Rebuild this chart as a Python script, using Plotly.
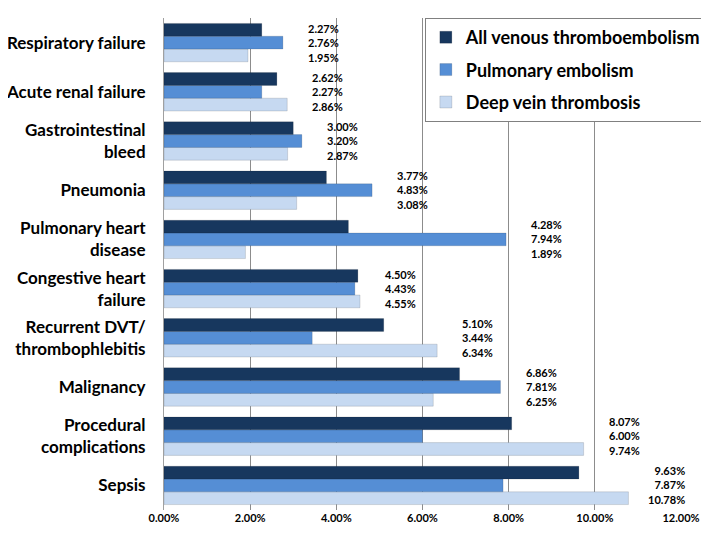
import plotly.graph_objects as go

categories = ["Respiratory failure", "Acute renal failure", "Gastrointestinal<br>bleed",
              "Pneumonia", "Pulmonary heart<br>disease", "Congestive heart<br>failure",
              "Recurrent DVT/<br>thrombophlebitis", "Malignancy", "Procedural<br>complications", "Sepsis"]
all_vte = [2.27, 2.62, 3.00, 3.77, 4.28, 4.50, 5.10, 6.86, 8.07, 9.63]
pe = [2.76, 2.27, 3.20, 4.83, 7.94, 4.43, 3.44, 7.81, 6.00, 7.87]
dvt = [1.95, 2.86, 2.87, 3.08, 1.89, 4.55, 6.34, 6.25, 9.74, 10.78]
series_names = ["All venous thromboembolism", "Pulmonary embolism", "Deep vein thrombosis"]
tick_vals = [0, 2, 4, 6, 8, 10, 12]
tick_text = ["0.00%", "2.00%", "4.00%", "6.00%", "8.00%", "10.00%", "12.00%"]
X_MAX = 12

colors = ["#17375E", "#558ED5", "#C6D9F1"]
FONT = "Lato"

fig = go.Figure()
series = list(zip(series_names, [all_vte, pe, dvt], colors))
# add bottom-most bar first so that All VTE appears on top of each group
for rank, (name, vals, col) in reversed(list(enumerate(series, start=1))):
    fig.add_trace(go.Bar(
        y=categories, x=vals, orientation="h", name=name,
        marker=dict(color=col, line=dict(color="rgba(0,0,0,0.25)", width=0.5)),
        legendgroup=name, legendrank=rank,
    ))

for cat, a, p, d in zip(categories, all_vte, pe, dvt):
    xr = (max(a, p, d) + 1.35) / X_MAX
    fig.add_annotation(
        x=xr, y=cat, xref="paper", yref="y",
        text=f"{a:.2f}%<br>{p:.2f}%<br>{d:.2f}%",
        showarrow=False, xanchor="right", yanchor="middle", align="right",
        font=dict(family=FONT, size=11, color="#000000", weight="bold"),
    )

fig.update_layout(
    width=709, height=534,
    paper_bgcolor="white", plot_bgcolor="white",
    barmode="group", bargap=0.22, bargroupgap=0,
    margin=dict(l=156, r=26, t=10, b=32),
    font=dict(family=FONT, color="#000000"),
    showlegend=True,
    legend=dict(
        x=1.05, xanchor="right", y=1.0, yanchor="top",
        traceorder="grouped", tracegroupgap=6,
        bgcolor="white", bordercolor="#808080", borderwidth=1,
        font=dict(family=FONT, size=18, color="#000000", weight="bold"),
    ),
    xaxis=dict(
        range=[0, X_MAX], tickvals=tick_vals, ticktext=tick_text,
        showgrid=True, gridcolor="#8c8c8c", gridwidth=1,
        zeroline=False, showline=False,
        tickfont=dict(family=FONT, size=11, weight="bold"),
    ),
    yaxis=dict(
        categoryorder="array", categoryarray=list(reversed(categories)),
        showline=True, linecolor="#a0a0a0", ticks="", ticklabelstandoff=14,
        automargin=False,
        tickfont=dict(family=FONT, size=17, weight="bold"),
    ),
)

fig.write_html("out.html")
